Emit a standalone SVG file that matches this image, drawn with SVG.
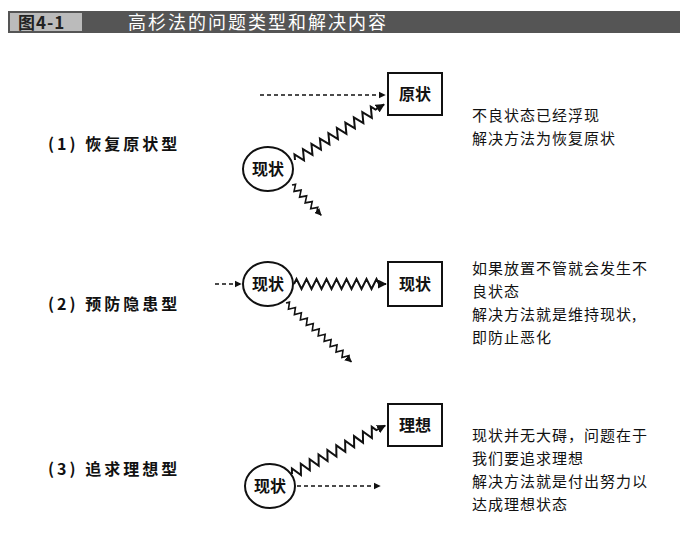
<svg xmlns="http://www.w3.org/2000/svg" width="689" height="541" viewBox="0 0 689 541">
<style>
.t{font-family:"Noto Sans CJK SC","Liberation Sans",sans-serif;fill:#111}
.lb{font-size:16px;font-weight:bold;letter-spacing:3px}
.nd{font-size:16px;font-weight:bold}
.rt{font-size:15px;letter-spacing:1px}
.box{fill:#fff;stroke:#111;stroke-width:2}
.ell{fill:#fff;stroke:#111;stroke-width:2}
.dash{fill:none;stroke:#111;stroke-width:1.6;stroke-dasharray:4 3}
.zz{fill:none;stroke:#111;stroke-width:2}
.zs{fill:none;stroke:#111;stroke-width:1.6}
</style>
<defs>
<marker id="ah" viewBox="0 0 10 10" refX="9" refY="5" markerWidth="4.5" markerHeight="4.5" orient="auto" markerUnits="strokeWidth"><path d="M0,0 L10,5 L0,10 z" fill="#111"/></marker>
</defs>
<rect width="689" height="541" fill="#fff"/>
<g id="title">
<rect x="8" y="11" width="672" height="22" fill="#555"/>
<rect x="10" y="13" width="72" height="18" fill="#bbb"/>
<text x="18" y="29" class="t" style="font-size:17px;font-weight:bold;fill:#222;letter-spacing:1px">图4-1</text>
<text x="128" y="29" class="t" style="font-size:18px;fill:#fff;letter-spacing:2px">高杉法的问题类型和解决内容</text>
</g>
<g id="labels">
<text x="48" y="150" class="t lb">(1) 恢复原状型</text>
<text x="48" y="310" class="t lb">(2) 预防隐患型</text>
<text x="48" y="475" class="t lb">(3) 追求理想型</text>
</g>
<g id="desc">
<text class="t rt" x="472" y="121">不良状态已经浮现</text>
<text class="t rt" x="472" y="144">解决方法为恢复原状</text>
<text class="t rt" x="472" y="274">如果放置不管就会发生不</text>
<text class="t rt" x="472" y="297">良状态</text>
<text class="t rt" x="472" y="320">解决方法就是维持现状,</text>
<text class="t rt" x="472" y="343">即防止恶化</text>
<text class="t rt" x="472" y="441">现状并无大碍，问题在于</text>
<text class="t rt" x="472" y="464">我们要追求理想</text>
<text class="t rt" x="472" y="487">解决方法就是付出努力以</text>
<text class="t rt" x="472" y="510">达成理想状态</text>
</g>
<g id="connectors">
<line class="dash" x1="260" y1="95" x2="385" y2="95" marker-end="url(#ah)"/>
<path class="zz" transform="translate(295,160) rotate(-32)" d="M0,0 l2.5,-5 l5,10 l5,-10 l5,10 l5,-10 l5,10 l5,-10 l5,10 l5,-10 l5,10 l5,-10 l5,10 l5,-10 l5,10 l5,-10 l5,10 l5,-10 l5,10 l5,-10 l2.5,5 h10" marker-end="url(#ah)"/>
<path class="zs" transform="translate(292,185) rotate(46)" d="M0,0 l2,-3 l4,6 l4,-6 l4,6 l4,-6 l4,6 l4,-6 l4,6 l4,-6 l2,3 h6" marker-end="url(#ah)"/>
<line class="dash" x1="215" y1="284" x2="241" y2="284" marker-end="url(#ah)"/>
<path class="zz" d="M294,284 l2.5,-5 l5,10 l5,-10 l5,10 l5,-10 l5,10 l5,-10 l5,10 l5,-10 l5,10 l5,-10 l5,10 l5,-10 l5,10 l5,-10 l5,10 l5,-10 l2.5,5 h7" marker-end="url(#ah)"/>
<path class="zs" transform="translate(286,303) rotate(42)" d="M0,0 l2,-3 l4,6 l4,-6 l4,6 l4,-6 l4,6 l4,-6 l4,6 l4,-6 l4,6 l4,-6 l4,6 l4,-6 l4,6 l4,-6 l4,6 l4,-6 l4,6 l4,-6 l4,6 l4,-6 l2,3 h4" marker-end="url(#ah)"/>
<path class="zz" transform="translate(292,474) rotate(-27.5)" d="M0,0 l2.5,-5 l5,10 l5,-10 l5,10 l5,-10 l5,10 l5,-10 l5,10 l5,-10 l5,10 l5,-10 l5,10 l5,-10 l5,10 l5,-10 l5,10 l5,-10 l5,10 l5,-10 l2.5,5 h10" marker-end="url(#ah)"/>
<line class="dash" x1="297" y1="486" x2="380" y2="486" marker-end="url(#ah)"/>
</g>
<g id="n1box"><rect class="box" x="388" y="73" width="54" height="42"/><text class="t nd" x="415" y="100" text-anchor="middle">原状</text></g>
<g id="n1ell"><ellipse class="ell" cx="268" cy="169" rx="25" ry="22"/><text class="t nd" x="268" y="175" text-anchor="middle">现状</text></g>
<g id="n2ell"><ellipse class="ell" cx="268" cy="284" rx="25" ry="22"/><text class="t nd" x="268" y="290" text-anchor="middle">现状</text></g>
<g id="n2box"><rect class="box" x="388" y="262" width="54" height="44"/><text class="t nd" x="415" y="290" text-anchor="middle">现状</text></g>
<g id="n3box"><rect class="box" x="388" y="404" width="54" height="42"/><text class="t nd" x="415" y="431" text-anchor="middle">理想</text></g>
<g id="n3ell"><ellipse class="ell" cx="270" cy="486" rx="25" ry="22"/><text class="t nd" x="270" y="492" text-anchor="middle">现状</text></g>
</svg>
